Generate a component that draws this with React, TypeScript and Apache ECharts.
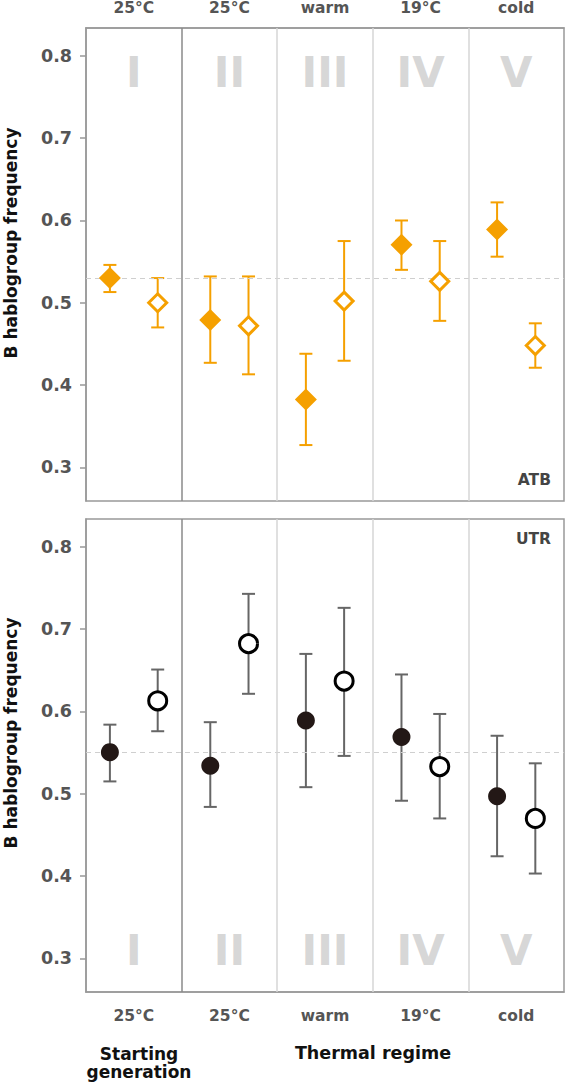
import React, { useEffect, useRef } from "react";
import * as echarts from "echarts";

const columns = ["25°C", "25°C", "warm", "19°C", "cold"];
const numerals = ["I", "II", "III", "IV", "V"];
const yTicks = [0.3, 0.4, 0.5, 0.6, 0.7, 0.8];

// ATB (top panel)
const atbFilledMean = [0.53, 0.479, 0.3825, 0.5705, 0.589];
const atbFilledLow = [0.513, 0.427, 0.327, 0.54, 0.556];
const atbFilledHigh = [0.546, 0.532, 0.438, 0.6, 0.622];
const atbOpenMean = [0.5, 0.472, 0.502, 0.526, 0.448];
const atbOpenLow = [0.47, 0.413, 0.4295, 0.478, 0.421];
const atbOpenHigh = [0.53, 0.532, 0.575, 0.575, 0.475];
const atbBaseline = 0.53;

// UTR (bottom panel)
const utrFilledMean = [0.5506, 0.534, 0.589, 0.569, 0.497];
const utrFilledLow = [0.515, 0.484, 0.508, 0.4915, 0.424];
const utrFilledHigh = [0.584, 0.587, 0.67, 0.645, 0.5705];
const utrOpenMean = [0.613, 0.6825, 0.637, 0.533, 0.47];
const utrOpenLow = [0.576, 0.6215, 0.546, 0.47, 0.403];
const utrOpenHigh = [0.651, 0.743, 0.726, 0.597, 0.537];
const utrBaseline = 0.55;

const Y_MIN = 0.259;
const Y_MAX = 0.834;
const ORANGE = "#F5A000";
const DARK = "#231816";
const GRAYBAR = "#666666";
const FONT = "DejaVu Sans, Verdana, sans-serif";

const offset = (i: number) => (i === 0 ? 0.25 : 0.2);
const xFilled = (i: number) => i + 0.5 - offset(i);
const xOpen = (i: number) => i + 0.5 + offset(i);

function errorSeries(gi: number, low: number[], high: number[], side: "f" | "o", color: string) {
  const data = low.map((l, i) => [side === "f" ? xFilled(i) : xOpen(i), l, high[i]]);
  return {
    type: "custom",
    xAxisIndex: gi,
    yAxisIndex: gi,
    z: 3,
    encode: { x: 0, y: [1, 2] },
    data,
    renderItem: (params: any, api: any) => {
      const x = api.value(0);
      const lo = api.value(1);
      const hi = api.value(2);
      const p1 = api.coord([x, hi]);
      const p2 = api.coord([x, lo]);
      const hw = 6.5;
      const st = { stroke: color, lineWidth: 2 };
      return {
        type: "group",
        children: [
          { type: "line", shape: { x1: p1[0], y1: p1[1], x2: p2[0], y2: p2[1] }, style: st },
          { type: "line", shape: { x1: p1[0] - hw, y1: p1[1], x2: p1[0] + hw, y2: p1[1] }, style: st },
          { type: "line", shape: { x1: p2[0] - hw, y1: p2[1], x2: p2[0] + hw, y2: p2[1] }, style: st },
        ],
      };
    },
  };
}

function pointSeries(gi: number, means: number[], side: "f" | "o", symbol: string, color: string) {
  const filled = side === "f";
  const isDiamond = symbol === "diamond";
  return {
    type: "scatter",
    xAxisIndex: gi,
    yAxisIndex: gi,
    z: 5,
    symbol,
    symbolSize: filled ? (isDiamond ? 22 : 18) : 18,
    itemStyle: filled
      ? { color, opacity: 1 }
      : { color: "#ffffff", borderColor: isDiamond ? color : "#000000", borderWidth: 3, opacity: 1 },
    data: means.map((m, i) => [filled ? xFilled(i) : xOpen(i), m]),
  };
}

function decorSeries(gi: number, baseline: number, numeralY: number) {
  return {
    type: "scatter",
    xAxisIndex: gi,
    yAxisIndex: gi,
    z: 1,
    symbolSize: 0,
    silent: true,
    data: numerals.map((n, i) => ({ value: [i + 0.5, numeralY], name: n })),
    label: {
      show: true,
      position: "inside",
      formatter: (p: any) => p.name,
      fontFamily: FONT,
      fontWeight: "bold",
      fontSize: 42,
      color: "#cccccc",
    },
    markLine: {
      silent: true,
      symbol: "none",
      label: { show: false },
      data: [
        { yAxis: baseline, lineStyle: { color: "#cfcfcf", type: [5, 4], width: 1 } },
        { xAxis: 1, lineStyle: { color: "#8a8a8a", type: "solid", width: 1.5 } },
        { xAxis: 2, lineStyle: { color: "#d6d6d6", type: "solid", width: 1.5 } },
        { xAxis: 3, lineStyle: { color: "#d6d6d6", type: "solid", width: 1.5 } },
        { xAxis: 4, lineStyle: { color: "#d6d6d6", type: "solid", width: 1.5 } },
      ],
    },
  };
}

function xAxis(gi: number, position: "top" | "bottom", margin: number) {
  return {
    type: "value",
    gridIndex: gi,
    position,
    min: 0,
    max: 5,
    axisLine: { show: true, lineStyle: { color: "#999999", width: 1.5 } },
    axisTick: { show: false },
    splitLine: { show: false },
    axisLabel: {
      show: true,
      customValues: columns.map((_, i) => i + 0.5),
      formatter: (v: number) => columns[Math.floor(v)] ?? "",
      margin,
      color: "#555555",
      fontFamily: FONT,
      fontWeight: "bold",
      fontSize: 15.5,
    },
  };
}

function yAxis(gi: number) {
  return {
    type: "value",
    gridIndex: gi,
    min: Y_MIN,
    max: Y_MAX,
    axisLine: { show: true, lineStyle: { color: "#999999", width: 1.5 } },
    axisTick: { show: true, length: 6, customValues: yTicks, lineStyle: { color: "#999999", width: 1.5 } },
    splitLine: { show: false },
    axisLabel: {
      show: true,
      customValues: yTicks,
      formatter: (v: number) => v.toFixed(1),
      margin: 14,
      color: "#555555",
      fontFamily: FONT,
      fontWeight: "bold",
      fontSize: 17.5,
    },
  };
}

export default function App() {
  const ref = useRef<HTMLDivElement>(null);
  useEffect(() => {
    if (!ref.current) return;
    const chart = echarts.init(ref.current, undefined, { renderer: "svg" });
    const titleStyle = { fontFamily: FONT, fontWeight: "bold", fontSize: 17.5, fill: "#111111" };
    chart.setOption({
      animation: false,
      backgroundColor: "#ffffff",
      grid: [
        { left: 86, top: 28, width: 478, height: 473, show: true, borderColor: "#999999", borderWidth: 1.5, backgroundColor: "transparent" },
        { left: 86, top: 519, width: 478, height: 473, show: true, borderColor: "#999999", borderWidth: 1.5, backgroundColor: "transparent" },
      ],
      xAxis: [xAxis(0, "top", 12), xAxis(1, "bottom", 16)],
      yAxis: [yAxis(0), yAxis(1)],
      series: [
        decorSeries(0, atbBaseline, 0.7796),
        errorSeries(0, atbFilledLow, atbFilledHigh, "f", ORANGE),
        errorSeries(0, atbOpenLow, atbOpenHigh, "o", ORANGE),
        pointSeries(0, atbFilledMean, "f", "diamond", ORANGE),
        pointSeries(0, atbOpenMean, "o", "diamond", ORANGE),
        decorSeries(1, utrBaseline, 0.3097),
        errorSeries(1, utrFilledLow, utrFilledHigh, "f", GRAYBAR),
        errorSeries(1, utrOpenLow, utrOpenHigh, "o", GRAYBAR),
        pointSeries(1, utrFilledMean, "f", "circle", DARK),
        pointSeries(1, utrOpenMean, "o", "circle", "#000000"),
      ],
      graphic: [
        {
          type: "text", x: 10.5, y: 243, rotation: Math.PI / 2,
          style: { text: "B hablogroup frequency", textAlign: "center", textVerticalAlign: "middle", ...titleStyle, fontSize: 17 },
        },
        {
          type: "text", x: 10.5, y: 733, rotation: Math.PI / 2,
          style: { text: "B hablogroup frequency", textAlign: "center", textVerticalAlign: "middle", ...titleStyle, fontSize: 17 },
        },
        {
          type: "text", x: 551, y: 480,
          style: { text: "ATB", textAlign: "right", textVerticalAlign: "middle", fontFamily: FONT, fontWeight: "bold", fontSize: 15.5, fill: "#444444" },
        },
        {
          type: "text", x: 551, y: 539,
          style: { text: "UTR", textAlign: "right", textVerticalAlign: "middle", fontFamily: FONT, fontWeight: "bold", fontSize: 15.5, fill: "#444444" },
        },
        {
          type: "text", x: 139, y: 1063,
          style: { text: "Starting\ngeneration", textAlign: "center", textVerticalAlign: "middle", ...titleStyle, fontSize: 17, lineHeight: 18 },
        },
        {
          type: "text", x: 373, y: 1053,
          style: { text: "Thermal regime", textAlign: "center", textVerticalAlign: "middle", ...titleStyle },
        },
      ],
    });
    return () => chart.dispose();
  }, []);
  return (
    <div
      ref={ref}
      style={{ position: "fixed", left: 0, top: 0, width: 565, height: 1082, background: "#ffffff" }}
    />
  );
}
